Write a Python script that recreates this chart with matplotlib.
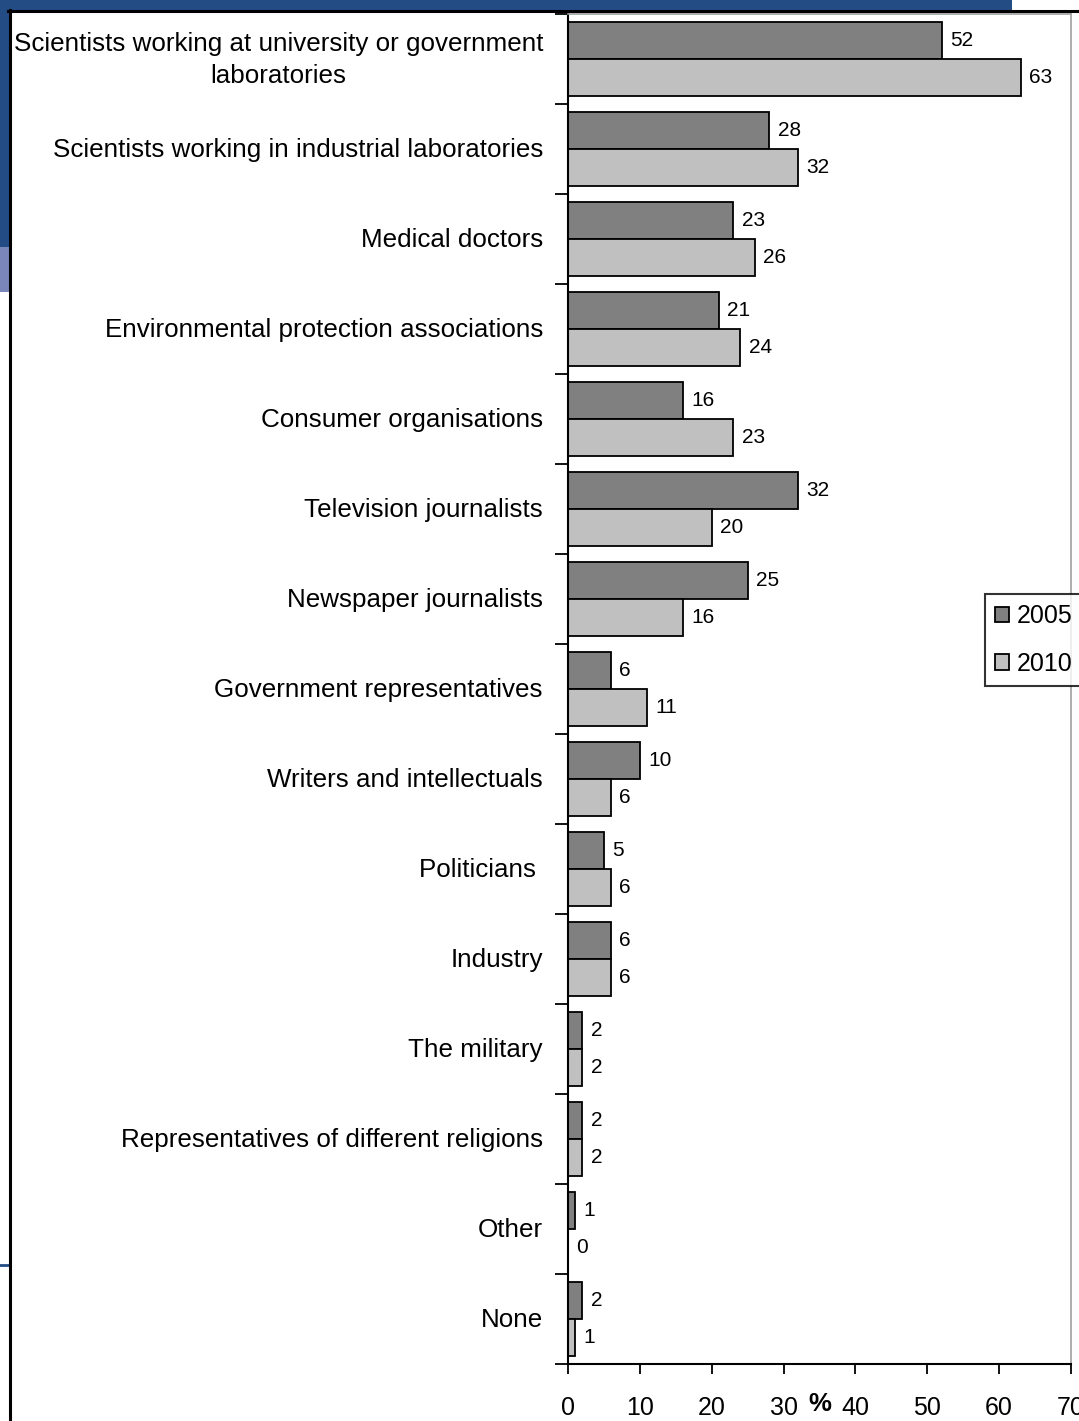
import matplotlib
matplotlib.use("Agg")
import matplotlib.pyplot as plt
from matplotlib.patches import Rectangle
from matplotlib.lines import Line2D
import numpy as np

plt.rcParams['font.family'] = ['Liberation Sans', 'DejaVu Sans']

categories = [
    "Scientists working at university or government\nlaboratories",
    "Scientists working in industrial laboratories",
    "Medical doctors",
    "Environmental protection associations",
    "Consumer organisations",
    "Television journalists",
    "Newspaper journalists",
    "Government representatives",
    "Writers and intellectuals",
    "Politicians ",
    "Industry",
    "The military",
    "Representatives of different religions",
    "Other",
    "None",
]
values_2005 = [52, 28, 23, 21, 16, 32, 25, 6, 10, 5, 6, 2, 2, 1, 2]
values_2010 = [63, 32, 26, 24, 23, 20, 16, 11, 6, 6, 6, 2, 2, 0, 1]
series_labels = ["2005", "2010"]
x_ticks = [0, 10, 20, 30, 40, 50, 60, 70]

W, H = 1079, 1421
fig = plt.figure(figsize=(W / 100, H / 100), dpi=100)
fig.patch.set_facecolor('white')


def fx(px):
    return px / W


def fy(py):
    return 1 - py / H


# slide decoration behind the chart
dark_blue = '#234C85'
light_blue = '#7A86B9'
fig.patches.append(Rectangle((0, fy(10)), fx(1012), 10 / H, transform=fig.transFigure,
                             facecolor=dark_blue, edgecolor='none', zorder=0))
fig.patches.append(Rectangle((0, fy(247)), fx(9), 247 / H, transform=fig.transFigure,
                             facecolor=dark_blue, edgecolor='none', zorder=0))
fig.patches.append(Rectangle((0, fy(292)), fx(9), 45 / H, transform=fig.transFigure,
                             facecolor=light_blue, edgecolor='none', zorder=0))
fig.lines.append(Line2D([0, fx(9)], [fy(1265), fy(1265)], transform=fig.transFigure,
                        color=dark_blue, lw=2))
# chart border
fig.lines.append(Line2D([fx(8), 1], [fy(10.5), fy(10.5)], transform=fig.transFigure,
                        color='black', lw=2.2))
fig.lines.append(Line2D([fx(9.5), fx(9.5)], [fy(10), 0], transform=fig.transFigure,
                        color='black', lw=2.2))

ax_left, ax_right, ax_top, ax_bottom = 568, 1071, 14, 1364
ax = fig.add_axes([fx(ax_left), fy(ax_bottom), (ax_right - ax_left) / W,
                   (ax_bottom - ax_top) / H])

y = np.arange(len(categories))
h = 0.415
b05 = ax.barh(y - h / 2, values_2005, height=h, color='#808080', edgecolor='black',
              linewidth=1.3, label=series_labels[0])
b10 = ax.barh(y + h / 2, values_2010, height=h, color='#C0C0C0', edgecolor='black',
              linewidth=1.3, label=series_labels[1])
ax.bar_label(b05, padding=6, fontsize=15)
ax.bar_label(b10, padding=6, fontsize=15)

ax.set_xlim(0, 70)
ax.set_ylim(len(categories) - 0.5, -0.5)

ax.set_xticks(x_ticks)
ax.set_xticklabels([str(t) for t in x_ticks], fontsize=18)
ax.tick_params(axis='x', direction='out', length=7, width=1.3, pad=16)

# category boundaries carry the ticks; names sit at the category centres
ax.set_yticks(np.arange(len(categories) + 1) - 0.5)
ax.set_yticklabels([])
ax.tick_params(axis='y', which='major', direction='out', length=9.5, width=1.3)
for i, name in enumerate(categories):
    ax.annotate(name, xy=(0, i), xycoords=('axes fraction', 'data'),
                xytext=(-25, -1), textcoords='offset pixels',
                ha='right', va='center', multialignment='center',
                linespacing=1.4, fontsize=18.7)

ax.set_xlabel('%', fontsize=18.5, fontweight='bold')
ax.xaxis.set_label_coords(0.5, -0.0205)

for s in ['left', 'bottom']:
    ax.spines[s].set_color('black')
    ax.spines[s].set_linewidth(1.5)
for s in ['top', 'right']:
    ax.spines[s].set_color('#A0A0A0')
    ax.spines[s].set_linewidth(1.2)

leg = fig.legend(handles=[b05, b10], loc='center left',
                 bbox_to_anchor=(fx(985), fy(640)), bbox_transform=fig.transFigure,
                 fontsize=18, frameon=True, fancybox=False, edgecolor='black',
                 handlelength=0.55, handleheight=0.55, handletextpad=0.3,
                 borderpad=0.4, labelspacing=0.95, borderaxespad=0)
leg.get_frame().set_linewidth(1.5)

fig.savefig('out.png', dpi=100)
